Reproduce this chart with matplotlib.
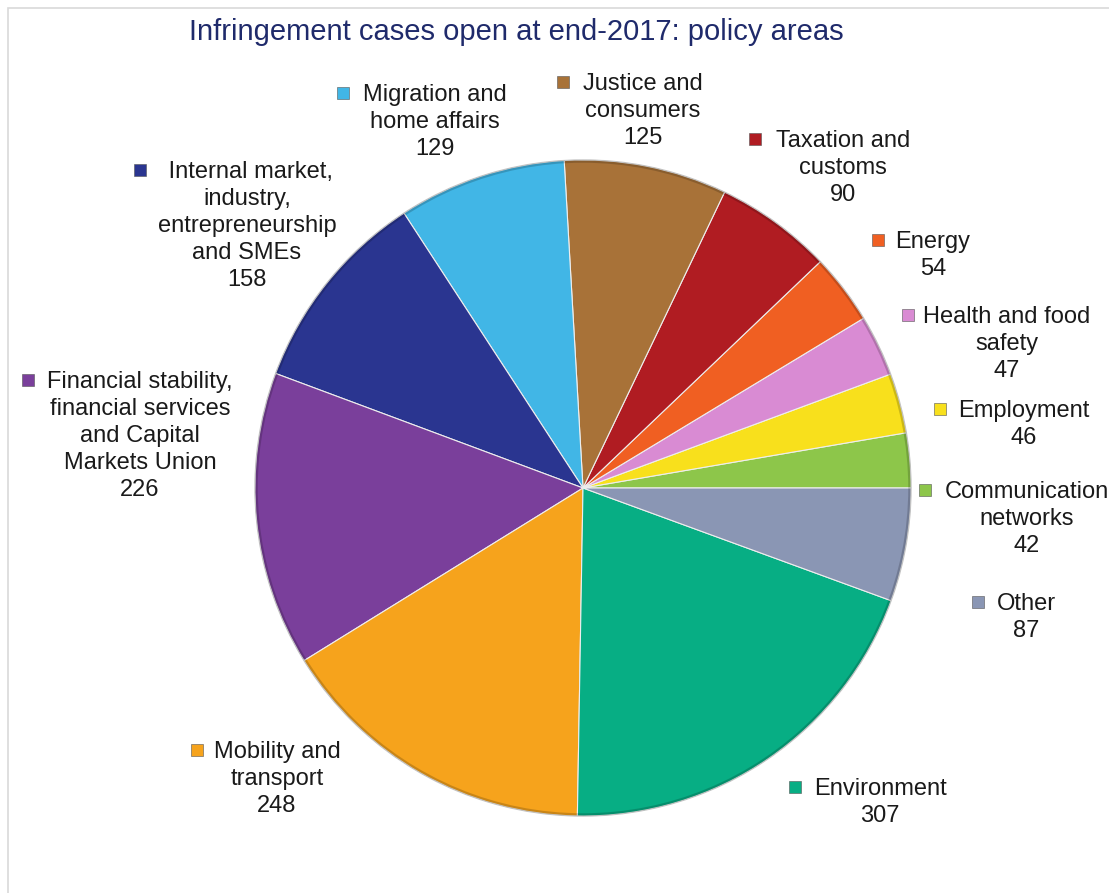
"""Pie: infringement cases open at end-2017 by policy area."""

import matplotlib
matplotlib.use("Agg")
import matplotlib.pyplot as plt
from matplotlib.patches import Rectangle, Circle

plt.rcParams["font.family"] = ["Liberation Sans", "DejaVu Sans"]

# data, counter-clockwise from 3 o'clock
areas = [
    "Communication\nnetworks",
    "Employment",
    "Health and food\nsafety",
    "Energy",
    "Taxation and\ncustoms",
    "Justice and\nconsumers",
    "Migration and\nhome affairs",
    " Internal market,\nindustry,\nentrepreneurship\nand SMEs",
    "Financial stability,\nfinancial services\nand Capital\nMarkets Union",
    "Mobility and\ntransport",
    "Environment",
    "Other",
]
cases = [42, 46, 47, 54, 90, 125, 129, 158, 226, 248, 307, 87]
colors = [
    "#8DC64A", "#F8E01C", "#D98BD3", "#F05F22", "#B01C22", "#A87238",
    "#41B6E6", "#2A3590", "#7A3F9B", "#F6A31C", "#07AE84", "#8A96B4",
]

W, H = 1109, 893
# label layout in image pixels: (square x, text centre x, first line y)
LABEL_POS = [
    (925, 1027, 490),
    (940, 1024, 409),
    (908, 1007, 315),
    (878, 933, 240),
    (755, 843, 139),
    (563, 643, 82),
    (343, 435, 93),
    (140, 247, 170),
    (28, 140, 380),
    (197, 277, 750),
    (795, 880, 787),
    (978, 1026, 602),
]
CX, CY, R = 583, 488, 328
TITLE_COLOR = "#1F2A6B"


def main():
    fig = plt.figure(figsize=(W / 100, H / 100), dpi=100)
    ax = fig.add_axes([0, 0, 1, 1])

    # light frame of the chart area
    ax.add_patch(Rectangle((8, -10), W + 20, H - 8 + 10, fill=False,
                           edgecolor="#d9d9d9", linewidth=1.2))

    ax.pie(cases, colors=colors, startangle=0, counterclock=True,
           center=(CX, H - CY), radius=R, frame=True,
           wedgeprops=dict(edgecolor="#eeeeee", linewidth=0.8))
    # darker rim, a nod to the bevelled look of the original
    ax.add_patch(Circle((CX, H - CY), R - 1, fill=False,
                        edgecolor="#000000", alpha=0.18, linewidth=2.5))
    ax.set_xlim(0, W)
    ax.set_ylim(0, H)
    ax.set_aspect("equal")
    ax.axis("off")

    for name, n, col, (sx, tx, ty) in zip(areas, cases, colors, LABEL_POS):
        ax.add_patch(Rectangle((sx - 6, H - ty - 6), 12, 12,
                               facecolor=col, edgecolor="#555555",
                               linewidth=0.4))
        ax.text(tx, H - ty + 9, f"{name}\n{n}", ha="center", va="top",
                fontsize=17, color="#1a1a1a", linespacing=1.3)

    ax.text(516, H - 32, "Infringement cases open at end-2017: policy areas",
            ha="center", va="center", fontsize=21, color=TITLE_COLOR)

    fig.savefig("out.png", dpi=100)
    plt.close(fig)


if __name__ == "__main__":
    main()
